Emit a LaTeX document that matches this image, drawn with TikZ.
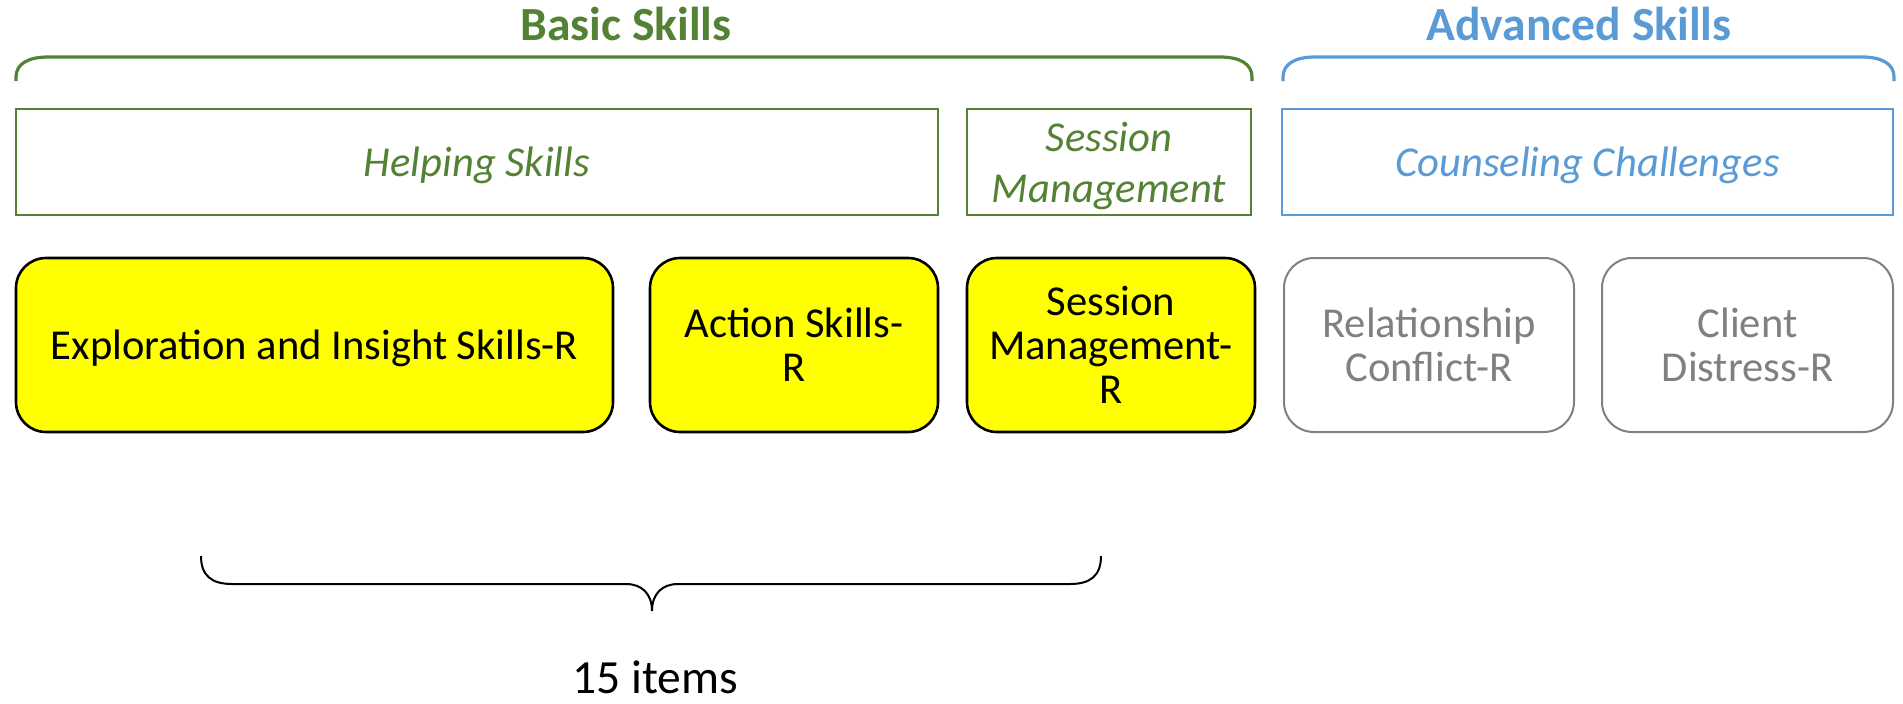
\documentclass[tikz,border=0pt]{standalone}
\usepackage{fontspec}
\setmainfont{Carlito}
\usetikzlibrary{calc}
\definecolor{skillgreen}{RGB}{84,130,53}
\definecolor{skillblue}{RGB}{91,155,213}
\definecolor{boxgray}{RGB}{128,128,128}
\definecolor{hiyellow}{RGB}{255,255,0}
\tikzset{
  txt/.style={font=\fontsize{21.3}{22}\selectfont, align=center, inner sep=0pt},
  oneline/.style={text height=16.4pt, text depth=2pt},
  headbox/.style={draw, line width=1pt, minimum height=53pt, txt, font=\fontsize{21.3}{22}\selectfont\itshape},
  greenhead/.style={headbox, draw=skillgreen, text=skillgreen},
  bluehead/.style={headbox, draw=skillblue, text=skillblue},
  skillbox/.style={draw=black, line width=1.3pt, fill=hiyellow, rounded corners=15pt, minimum height=87pt, txt},
  grayskill/.style={draw=boxgray, line width=1pt, rounded corners=15pt, minimum height=87pt, txt, text=boxgray},
  groupbracket/.style={line width=1.6pt},
  title/.style={font=\fontsize{23.8}{26}\selectfont\bfseries, inner sep=0pt},
}
\begin{document}
\begin{tikzpicture}[x=0.5pt, y=-0.5pt]
  \useasboundingbox[fill=white] (0,0) rectangle (1903,703);

  % group titles
  \node[title, text=skillgreen] (basic) at (626,24) {Basic Skills};
  \node[title, text=skillblue] (advanced) at (1579,24) {Advanced Skills};

  % group brackets
  \coordinate (bl) at (16,81);
  \coordinate (br) at (1252,81);
  \coordinate (al) at (1283,81);
  \coordinate (ar) at (1894,81);
  \draw[groupbracket, skillgreen] (bl) -- ++(0,-4) .. controls ($(bl)+(0,-17)$) and ($(bl)+(12,-24)$) .. ($(bl)+(32,-24)$)
    -- ($(br)+(-32,-24)$) .. controls ($(br)+(-12,-24)$) and ($(br)+(0,-17)$) .. ($(br)+(0,-4)$) -- (br);
  \draw[groupbracket, skillblue] (al) -- ++(0,-4) .. controls ($(al)+(0,-17)$) and ($(al)+(12,-24)$) .. ($(al)+(32,-24)$)
    -- ($(ar)+(-32,-24)$) .. controls ($(ar)+(-12,-24)$) and ($(ar)+(0,-17)$) .. ($(ar)+(0,-4)$) -- (ar);

  % category boxes
  \node[greenhead, oneline, minimum width=461pt] (helping) at (477,162) {Helping Skills};
  \node[greenhead, minimum width=142pt] (session) at (1109,162) {};
  \node[txt, font=\fontsize{21.3}{22}\selectfont\itshape, text=skillgreen] (sessionname) at (1109,166) {Session\\[3.5pt]Management};
  \node[bluehead, oneline, minimum width=305.5pt] (challenges) at (1587.5,162) {Counseling Challenges};

  % skill scales
  \node[skillbox, oneline, minimum width=298.5pt] (explore) at (314.5,345) {Exploration and Insight Skills-R};
  \node[skillbox, minimum width=144pt] (action) at (794,345) {Action Skills-\\R};
  \node[skillbox, minimum width=144pt] (sessr) at (1111,345) {Session\\Management-\\R};
  \node[grayskill, minimum width=145pt] (relation) at (1429,345) {Relationship\\Conflict-R};
  \node[grayskill, minimum width=145.5pt] (distress) at (1747.5,345) {Client\\Distress-R};

  % brace under the basic scales
  \coordinate (bs) at (201,556);
  \coordinate (be) at (1101,556);
  \coordinate (tip) at (652,611);
  \draw[line width=1pt, black] (bs) .. controls (201,576) and (212,584) .. (232,584)
    -- (626,584) .. controls (642,584) and (652,594) .. (tip)
    .. controls (652,594) and (662,584) .. (678,584)
    -- (1070,584) .. controls (1090,584) and (1101,576) .. (be);
  \node[font=\fontsize{23.8}{26}\selectfont, inner sep=0pt, anchor=base] (count) at (655,693) {15 items};
\end{tikzpicture}
\end{document}
